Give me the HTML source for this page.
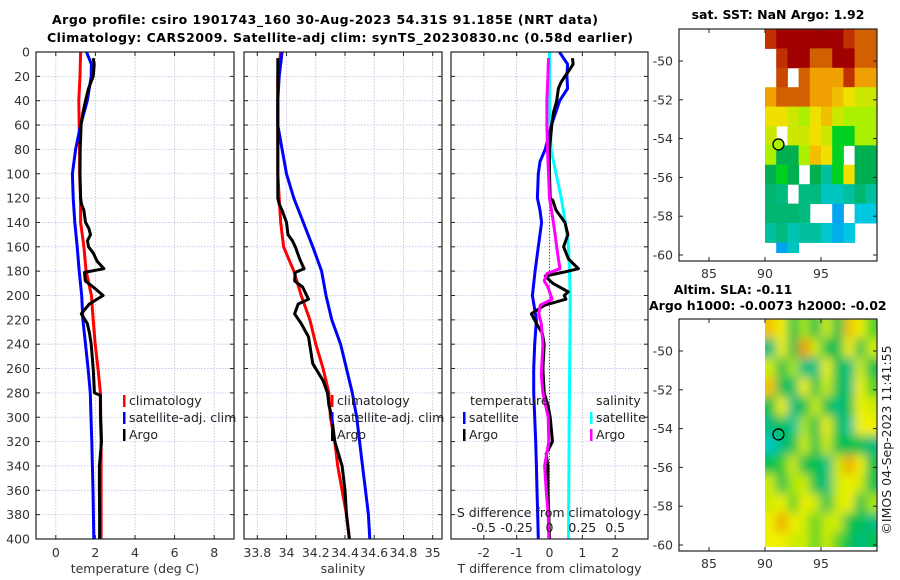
<!DOCTYPE html>
<html><head><meta charset="utf-8"><style>
html,body{margin:0;padding:0;background:#fff;}
svg{display:block;font-family:"DejaVu Sans","Liberation Sans",sans-serif;}
</style></head><body>
<svg id="fig" width="900" height="580" viewBox="0 0 900 580" xmlns="http://www.w3.org/2000/svg">
<defs>
<clipPath id="cp1"><rect x="36" y="52" width="198" height="487"/></clipPath>
<clipPath id="cp2"><rect x="244" y="52" width="198" height="487"/></clipPath>
<clipPath id="cp3"><rect x="451" y="52" width="197" height="487"/></clipPath>
<clipPath id="cm1"><rect x="765" y="29" width="112" height="224"/></clipPath>
<clipPath id="cm2"><rect x="765" y="319" width="112" height="228"/></clipPath>
<filter id="blur" x="-5%" y="-5%" width="110%" height="110%"><feGaussianBlur stdDeviation="5"/></filter>
</defs>
<text x="325" y="24" text-anchor="middle" font-weight="bold" font-size="12.5" textLength="546">Argo profile: csiro 1901743_160 30-Aug-2023 54.31S 91.185E (NRT data)</text>
<text x="340" y="42" text-anchor="middle" font-weight="bold" font-size="12.5" textLength="586">Climatology: CARS2009. Satellite-adj clim: synTS_20230830.nc (0.58d earlier)</text>
<text x="778" y="19" text-anchor="middle" font-weight="bold" font-size="12.5">sat. SST: NaN Argo: 1.92</text>
<text x="733" y="294" text-anchor="middle" font-weight="bold" font-size="12.5">Altim. SLA: -0.11</text>
<text x="649" y="310" font-weight="bold" font-size="12.5">Argo h1000: -0.0073 h2000: -0.02</text>
<text transform="translate(891,440) rotate(-90)" text-anchor="middle" font-size="12.5" fill="#222">©IMOS 04-Sep-2023 11:41:55</text>
<g id="plots"></g>
</svg>
<script>
// ---- panel 1: temperature ----
const tClimDepth = [0,20,40,60,80,100,120,140,160,180,200,220,240,260,280,300,320,340,360,380,400];
const tClim = [1.25,1.22,1.16,1.18,1.2,1.2,1.25,1.25,1.42,1.53,1.8,1.89,1.99,2.13,2.25,2.25,2.29,2.29,2.29,2.29,2.29];
const tSatDepth = [0,10,20,40,60,80,100,120,140,160,180,200,220,240,260,280,300,320,340,360,380,400];
const tSat = [1.55,1.8,1.79,1.59,1.25,1.0,0.84,0.88,0.96,1.08,1.18,1.31,1.37,1.5,1.63,1.74,1.78,1.82,1.85,1.88,1.9,1.92];
const tArgoDepth = [5,10,20,30,40,50,60,80,100,120,125,130,140,145,150,155,160,165,172,178,181,188,193,200,207,215,223,231,240,260,280,282,300,320,340,360,380,400];
const tArgo = [1.89,1.94,1.89,1.65,1.5,1.37,1.28,1.23,1.22,1.25,1.3,1.42,1.5,1.67,1.75,1.6,1.65,1.89,2.09,2.43,1.45,1.49,1.89,2.39,1.69,1.29,1.59,1.7,1.79,1.89,1.95,2.25,2.27,2.31,2.2,2.2,2.21,2.21];
const tTicks = [0,2,4,6,8];
// ---- panel 2: salinity ----
const sDepth = [0,20,40,60,80,100,120,140,160,180,200,220,240,260,280,300,320,340,360,380,400];
const sClim = [33.96,33.94,33.94,33.94,33.94,33.94,33.95,33.96,33.98,34.05,34.1,34.16,34.2,34.25,34.29,34.3,34.33,34.35,34.38,34.41,34.43];
const sSat = [33.97,33.95,33.94,33.94,33.97,34.0,34.05,34.115,34.18,34.24,34.27,34.31,34.37,34.41,34.45,34.48,34.5,34.52,34.54,34.56,34.57];
const sArgoDepth = [5,20,40,60,80,100,120,125,130,140,150,155,160,170,178,181,188,193,203,207,215,223,234,256,270,280,290,300,320,340,360,380,400];
const sArgo = [33.94,33.94,33.94,33.94,33.94,33.94,33.94,33.95,33.97,34.0,34.01,34.04,34.06,34.09,34.12,34.06,34.055,34.11,34.15,34.08,34.055,34.1,34.15,34.18,34.25,34.28,34.29,34.31,34.33,34.38,34.4,34.41,34.43];
const sTicks = [33.8,34,34.2,34.4,34.6,34.8,35];
const sTickLabels = ["33.8","34","34.2","34.4","34.6","34.8","35"];
// ---- panel 3: differences ----
const dTSatDepth = [0,10,20,30,40,60,80,90,100,120,130,140,160,180,200,220,240,260,280,300,320,340,360,380,400];
const dTSat = [0.3,0.55,0.53,0.55,0.31,0.06,-0.13,-0.29,-0.34,-0.37,-0.29,-0.24,-0.34,-0.44,-0.52,-0.4,-0.45,-0.48,-0.48,-0.45,-0.42,-0.4,-0.38,-0.36,-0.34];
const dSSatDepth = [0,20,40,60,80,100,120,140,160,180,200,240,300,400];
const dSSat = [0,0,0,0.005,0.0125,0.05,0.09,0.12,0.145,0.1525,0.1575,0.155,0.15,0.145];
const dTArgoDepth = [5,10,15,20,25,30,40,50,60,80,100,120,122,130,140,150,160,170,178,181,184,190,197,200,203,208,215,223,231,240,260,280,290,300,320,330,340,360,380,400];
const dTArgo = [0.7,0.72,0.6,0.47,0.35,0.27,0.22,0.12,0.07,0,0,0.02,0.1,0.2,0.47,0.56,0.43,0.58,0.88,0.4,-0.13,0.1,0.57,0.45,0.5,-0.15,-0.55,-0.4,-0.22,-0.16,-0.2,-0.16,-0.05,0.02,0.09,-0.1,-0.05,-0.05,-0.02,0];
const dSArgoDepth = [5,20,40,60,80,100,120,130,140,150,160,170,178,182,188,193,203,208,215,223,240,265,280,300,320,340,360,380,400];
const dSArgo = [-0.0075,-0.0125,-0.02,-0.02,-0.015,-0.0075,0,0.015,0.03,0.0425,0.055,0.0675,0.08,-0.02,-0.04,-0.0125,0.02,-0.07,-0.0825,-0.0625,-0.05,-0.0625,-0.05,-0.01,-0.005,-0.0375,-0.025,-0.01,-0.005];
const dTTicks = [-2,-1,0,1,2];
const dSTicks = [-0.5,-0.25,0,0.25,0.5];
const dSTickLabels = ["-0.5","-0.25","0","0.25","0.5"];
const depthTicks = [0,20,40,60,80,100,120,140,160,180,200,220,240,260,280,300,320,340,360,380,400];
// ---- maps ----
const mapLons = [90,91,92,93,94,95,96,97,98,99];
const mapLatTops = [-48.35,-49.35,-50.35,-51.35,-52.35,-53.35,-54.35,-55.35,-56.35,-57.35,-58.35,-59.35];
const sstGrid = [
 [7,8,8,8,8,8,8,7,6,6],
 [null,7,8,8,6,6,8,8,6,6],
 [null,6.5,null,6,5,5,5,7,5,5],
 [5,6,6,6,5,5,4.5,4,3.5,3.5],
 [4,4,3.5,3,4,4.5,3.5,3,3,3],
 [3.5,null,3.5,3.5,4,3.5,2,2,3,3],
 [3,1.5,1.5,3,4.5,4,2,null,1.5,1.5],
 [1.5,2,1.5,null,1.5,1,2,4,1.5,1.5],
 [1.3,1.2,null,1.2,1.2,0.8,0.8,1,1.3,1],
 [1.3,1.3,1.3,1.2,null,null,0.3,null,0.6,0.6],
 [1,1.2,0.9,1,1,0.7,0.4,0.6,null,null],
 [null,0.3,0.8,null,null,null,null,null,null,null]
];
const slaGrid = [
 [3.5,3,1,2,1,2.5,1,3.5,3,1.5],
 [0.5,3,1,4,2.5,1,1,3,1,2.5],
 [2.5,1,2,0.5,0.5,3,1,0.5,2.5,1],
 [3.5,1,0.7,3,1,2.5,1,0.5,3,1.5],
 [1,3,0.5,1,2.5,1,0.5,1,3,2.5],
 [0.5,1,0.3,2,1,3,1,0.3,3,3],
 [0,0.5,1,2.5,1,2.5,1,1,1,0.5],
 [1,1.3,2.5,1,1,0.5,2.5,3.8,3,1],
 [2.5,1,2,2.5,1,0.5,2.5,3,2.5,1],
 [2.5,3,1.5,3,2.5,1,2.5,3,1,2],
 [3,3.8,3,2.5,1.5,2.5,2.5,1,1,0.5],
 [3,3,2.5,2.5,1.5,2.5,1.5,1,0.5,1]
];
const argoLon = 91.2, argoLat = -54.3;
const latTicks = [-50,-52,-54,-56,-58,-60];
const lonTicks = [85,90,95];

const NS = "http://www.w3.org/2000/svg";
const root = document.getElementById('plots');
function mk(tag, attrs, parent){
  const e = document.createElementNS(NS, tag);
  for (const k in attrs) e.setAttribute(k, attrs[k]);
  (parent||root).appendChild(e);
  return e;
}
const Y0 = 52, Y1 = 539;
const yD = d => Y0 + (d/400)*(Y1-Y0);
function lin(d0,d1,r0,r1){ return v => r0 + (v-d0)/(d1-d0)*(r1-r0); }

function panel(name, x0, x1, xs, xticks, xlabels, xtitle, clip, showY){
  const g = mk('g', {});
  
  
  depthTicks.forEach(d=>{
    const l = mk('line',{x1:x0,x2:x1,y1:yD(d),y2:yD(d),stroke:'#b8c4e8','stroke-width':0.8,'stroke-dasharray':'1.5,1.5'},g);
    
    
  });
  xticks.forEach((t,i)=>{
    const X = xs(t);
    const l = mk('line',{x1:X,x2:X,y1:Y0,y2:Y1,stroke:'#c8b8d8','stroke-width':0.8,'stroke-dasharray':'1.5,1.5'},g);
    
    
    mk('line',{x1:X,x2:X,y1:Y1,y2:Y1-4,stroke:'#222','stroke-width':1},g);
    mk('line',{x1:X,x2:X,y1:Y0,y2:Y0+4,stroke:'#222','stroke-width':1},g);
    const tx = mk('text',{x:X,y:557,'text-anchor':'middle','font-size':12.5,fill:'#333'},g);
    tx.textContent = xlabels[i];
    
    
  });
  depthTicks.forEach(d=>{
    mk('line',{x1:x0,x2:x0+4,y1:yD(d),y2:yD(d),stroke:'#222','stroke-width':1},g);
    mk('line',{x1:x1,x2:x1-4,y1:yD(d),y2:yD(d),stroke:'#222','stroke-width':1},g);
    if(showY){
      const t = mk('text',{x:30,y:yD(d)+4.5,'text-anchor':'end','font-size':12.5,fill:'#333'},g);
      t.textContent = d;
      
      
    }
  });
  const xt = mk('text',{x:(x0+x1)/2,y:573,'text-anchor':'middle','font-size':12.5,fill:'#333'},g);
  xt.textContent = xtitle;
  
  
  const lines = mk('g',{'clip-path':'url(#'+clip+')'},g);
  return {g, lines};
}
function series(parent, name, depths, vals, xs, color){
  const pts = depths.map((d,i)=> xs(vals[i]).toFixed(1)+','+yD(d).toFixed(1)).join(' ');
  const p = mk('polyline',{points:pts,fill:'none',stroke:color,'stroke-width':3,'stroke-linejoin':'round'},parent);
  
  
  return p;
}
function frame(g,x0,x1){
  const r = mk('rect',{x:x0,y:Y0,width:x1-x0,height:Y1-Y0,fill:'none',stroke:'#222','stroke-width':1.2},g);
  
  
}
function legend(g, x, y, items){
  items.forEach((it,i)=>{
    const yy = y + i*17;
    mk('rect',{x:x,y:yy-10,width:2.5,height:12,fill:it[1]},g);
    const t = mk('text',{x:x+6,y:yy,'font-size':12.5,fill:'#222'},g);
    t.textContent = it[0];
    
    
  });
}

const xT = lin(-1,9,36,234);
const p1 = panel('temperature-panel',36,234,xT,tTicks,tTicks.map(String),'temperature (deg C)','cp1',true);
series(p1.lines,'temperature-climatology-line',tClimDepth,tClim,xT,'#ff0000');
series(p1.lines,'temperature-satellite-line',tSatDepth,tSat,xT,'#0000ff');
series(p1.lines,'temperature-argo-line',tArgoDepth,tArgo,xT,'#000000');
frame(p1.g,36,234);
legend(p1.g,123,405,[['climatology','#ff0000'],['satellite-adj. clim','#0000ff'],['Argo','#000000']]);

const xS = lin(33.8,35,257.3,432.7);
const p2 = panel('salinity-panel',244,442,xS,sTicks,sTickLabels,'salinity','cp2',false);
series(p2.lines,'salinity-climatology-line',sDepth,sClim,xS,'#ff0000');
series(p2.lines,'salinity-satellite-line',sDepth,sSat,xS,'#0000ff');
series(p2.lines,'salinity-argo-line',sArgoDepth,sArgo,xS,'#000000');
frame(p2.g,244,442);
legend(p2.g,331,405,[['climatology','#ff0000'],['satellite-adj. clim','#0000ff'],['Argo','#000000']]);

const xD = lin(-3,3,451,648);
const xDS = v => xD(v*4);
const p3 = panel('difference-panel',451,648,xD,dTTicks,dTTicks.map(String),'T difference from climatology','cp3',false);
const zl = mk('line',{x1:xD(0),x2:xD(0),y1:yD(115),y2:Y1,stroke:'#555','stroke-width':1,'stroke-dasharray':'1,2'},p3.lines);


series(p3.lines,'sal-diff-satellite-line',dSSatDepth,dSSat,xDS,'#00ffff');
series(p3.lines,'temp-diff-satellite-line',dTSatDepth,dTSat,xD,'#0000ff');
series(p3.lines,'temp-diff-argo-line',dTArgoDepth,dTArgo,xD,'#000000');
series(p3.lines,'sal-diff-argo-line',dSArgoDepth,dSArgo,xDS,'#ff00ff');
frame(p3.g,451,648);
const lt = mk('text',{x:470,y:405,'font-size':12.5,fill:'#222'},p3.g); lt.textContent='temperature';


legend(p3.g,463,422,[['satellite','#0000ff'],['Argo','#000000']]);
const ls = mk('text',{x:596,y:405,'font-size':12.5,fill:'#222'},p3.g); ls.textContent='salinity';


legend(p3.g,590,422,[['satellite','#00ffff'],['Argo','#ff00ff']]);
const st = mk('text',{x:549,y:517,'text-anchor':'middle','font-size':12.5,fill:'#222'},p3.g);
st.textContent='S difference from climatology';


dSTicks.forEach((v,i)=>{
  const t = mk('text',{x:xDS(v),y:532,'text-anchor':'middle','font-size':12.5,fill:'#222'},p3.g);
  t.textContent = dSTickLabels[i];
  
  
});

const sstStops = [[0,[0,128,255]],[0.6,[0,200,224]],[1,[0,192,160]],[1.5,[0,176,80]],[2,[0,208,32]],[3,[170,240,0]],[4,[240,224,0]],[5,[240,160,0]],[6,[210,96,0]],[7,[192,48,0]],[8,[160,0,0]]];
const slaStops = [[0,[0,200,190]],[0.5,[0,190,130]],[1,[0,192,80]],[2,[170,230,0]],[3,[240,240,0]],[4,[240,150,0]]];
function cmap(stops,v){
  if(v<=stops[0][0]) return 'rgb('+stops[0][1]+')';
  for(let i=1;i<stops.length;i++){
    if(v<=stops[i][0]){
      const a=stops[i-1],b=stops[i],f=(v-a[0])/(b[0]-a[0]);
      return 'rgb('+a[1].map((c,k)=>Math.round(c+(b[1][k]-c)*f)).join(',')+')';
    }
  }
  return 'rgb('+stops[stops.length-1][1]+')';
}
function mapPanel(name, top, grid, stops, clip, blur, argoFill){
  const g = mk('g',{});
  
  
  const xL = lin(90,100,765,877);
  const yL = lat => top + 32 + (-50-lat)*19.4;
  const cells = mk('g',{'clip-path':'url(#'+clip+')'},g);
  const inner = mk('g',blur?{filter:'url(#blur)'}:{},cells);
  grid.forEach((row,r)=>row.forEach((v,c)=>{
    if(v===null) return;
    const x = xL(mapLons[c]), y = yL(mapLatTops[r]);
    const pad = blur?8:0;
    const rc = mk('rect',{x:x-(c===0?pad:0),y:y-(r===0?pad:0),width:xL(mapLons[c]+1)-x+0.5+(c===9?pad:0)+(c===0?pad:0),height:19.9+((r===0||r===11)?pad:0),fill:cmap(stops,v)},inner);
    
    
  }));
  const fr = mk('rect',{x:679,y:top,width:198,height:232,fill:'none',stroke:'#222','stroke-width':1.2},g);
  
  
  latTicks.forEach(lat=>{
    const y=yL(lat);
    mk('line',{x1:679,x2:683,y1:y,y2:y,stroke:'#222'},g);
    mk('line',{x1:877,x2:873,y1:y,y2:y,stroke:'#222'},g);
    const t=mk('text',{x:673,y:y+4.5,'text-anchor':'end','font-size':12.5,fill:'#333'},g);
    t.textContent=lat;
    
    
  });
  lonTicks.forEach(lon=>{
    const x=xL(lon);
    mk('line',{x1:x,x2:x,y1:top+232,y2:top+228,stroke:'#222'},g);
    mk('line',{x1:x,x2:x,y1:top,y2:top+4,stroke:'#222'},g);
    const t=mk('text',{x:x,y:top+249,'text-anchor':'middle','font-size':12.5,fill:'#333'},g);
    t.textContent=lon;
    
    
  });
  const m = mk('circle',{cx:xL(argoLon),cy:yL(argoLat),r:5.5,fill:argoFill,stroke:'#000','stroke-width':1.3},g);
  
  
}
mapPanel('sst-map',29,sstGrid,sstStops,'cm1',false,cmap(sstStops,3));
mapPanel('sla-map',319,slaGrid,slaStops,'cm2',true,'none');
</script>
</body></html>
